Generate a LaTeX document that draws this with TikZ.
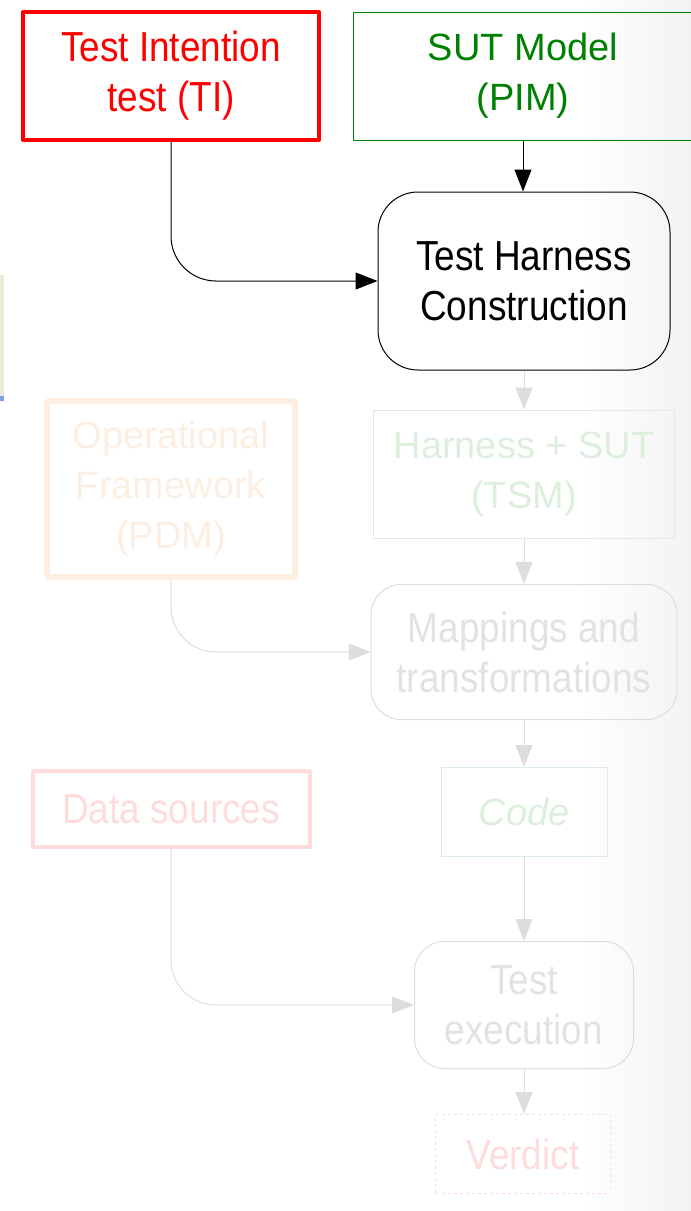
\documentclass[tikz,border=0pt]{standalone}
\usepackage{fontspec}
\setmainfont{Liberation Sans}
\newfontfamily\narrowsans[FakeStretch=0.88]{Liberation Sans}
\usetikzlibrary{arrows.meta}
\usepackage{xcolor}
\definecolor{tired}{HTML}{FF0000}
\definecolor{pimgreen}{HTML}{008000}
\definecolor{fadegray}{HTML}{DDDDDD}
\definecolor{fadetext}{HTML}{E2E2E2}
\definecolor{fadegreen}{HTML}{DCEFDC}
\definecolor{fadepeach}{HTML}{FDEEE2}
\definecolor{fadepink}{HTML}{FFDCDC}
\tikzset{
  box/.style={draw, align=center, inner sep=0pt},
  armtext/.style={font=\narrowsans\fontsize{42}{50}\selectfont},
  comictext/.style={font=\fontsize{38}{50}\selectfont},
  stagebox/.style={box, armtext, rounded corners=40pt},
  arrow/.style={-{Triangle[length=22pt,width=17pt]}, line width=1pt},
  fadearrow/.style={arrow, draw=fadegray}
}

\begin{document}
\begin{tikzpicture}[x=1pt, y=-1pt, line join=round]
  \useasboundingbox (0,0) rectangle (691,1211);
  \clip (0,0) rectangle (691,1211);
  % slide background
  \fill[left color=white, right color=black!5] (580,0) rectangle (691,1211);
  \fill[fill={rgb,255:red,236;green,233;blue,216}] (0,275) rectangle (4,396);
  \fill[fill={rgb,255:red,120;green,160;blue,230}] (0,396) rectangle (4,401);

  % active part
  \node[box, armtext, draw=tired, text=tired, line width=4pt, minimum width=296pt, minimum height=128pt] (ti) at (171,76) {Test Intention\\test (TI)};
  \node[box, comictext, draw=pimgreen, text=pimgreen, line width=1pt, minimum width=340pt, minimum height=128pt] (pim) at (523,76) {SUT Model\\(PIM)};
  \node[stagebox, line width=1pt, minimum width=292pt, minimum height=178pt] (thc) at (524,281) {Test Harness\\Construction};

  % faded part
  \node[box, comictext, draw=fadegreen, text=fadegreen, line width=1pt, minimum width=301pt, minimum height=128pt] (tsm) at (524,474) {Harness + SUT\\(TSM)};
  \node[box, comictext, draw=fadepeach, text=fadepeach, line width=6pt, rounded corners=2pt, minimum width=248pt, minimum height=176pt] (pdm) at (171,489) {Operational\\Framework\\(PDM)};
  \node[stagebox, rounded corners=30pt, draw=fadegray, text=fadetext, line width=1pt, minimum width=306pt, minimum height=135pt] (map) at (524,652) {Mappings and\\transformations};
  \node[box, comictext, font=\itshape\fontsize{38}{50}\selectfont, draw=fadegreen, text=fadegreen, line width=1pt, minimum width=166pt, minimum height=89pt] (code) at (524,812) {Code};
  \node[box, armtext, draw=fadepink, text=fadepink, line width=4pt, minimum width=277pt, minimum height=76pt] (data) at (171,809) {Data sources};
  \node[stagebox, rounded corners=30pt, draw=fadegray, text=fadetext, line width=1pt, minimum width=219pt, minimum height=127pt] (exec) at (524,1005) {Test\\execution};
  \node[box, armtext, dashed, draw=fadepink, text=fadepink, line width=1pt, minimum width=175pt, minimum height=79pt] (verdict) at (523,1154) {Verdict};

  % connectors
  \draw[arrow] (pim.south) -- (pim.south |- thc.north);
  \draw[arrow, rounded corners=45pt] (ti.south) |- (thc.west);
  \draw[fadearrow] (thc.south) -- (thc.south |- tsm.north);
  \draw[fadearrow] (tsm.south) -- (tsm.south |- map.north);
  \draw[fadearrow, rounded corners=45pt] (pdm.south) |- (map.west);
  \draw[fadearrow] (map.south) -- (map.south |- code.north);
  \draw[fadearrow] (code.south) -- (code.south |- exec.north);
  \draw[fadearrow, rounded corners=45pt] (data.south) |- (exec.west);
  \draw[fadearrow] (exec.south) -- (exec.south |- verdict.north);
\end{tikzpicture}
\end{document}
